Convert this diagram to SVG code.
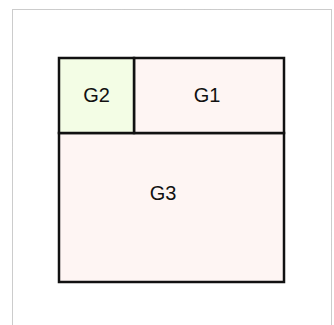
<svg xmlns="http://www.w3.org/2000/svg" width="334" height="325" viewBox="0 0 334 325">
<style>
.cell{stroke:#111;stroke-width:2.5}
.lbl{font-family:"Liberation Sans",Arial,sans-serif;font-size:20px;fill:#111;text-anchor:middle}
</style>
<rect x="0" y="0" width="334" height="325" fill="#fff"/>
<rect x="12.5" y="9.5" width="319" height="330" fill="none" stroke="#999" stroke-width="1" stroke-dasharray="1,1"/>
<g id="G3"><rect class="cell" x="59" y="133" width="225" height="149" fill="#fef5f3"/><text class="lbl" x="163" y="199.5">G3</text></g>
<g id="G1"><rect class="cell" x="134" y="58" width="150" height="75" fill="#fef5f3"/><text class="lbl" x="207" y="102">G1</text></g>
<g id="G2"><rect class="cell" x="59" y="58" width="75" height="75" fill="#f3fde5"/><text class="lbl" x="96.5" y="102">G2</text></g>
<g id="connectors"/>
</svg>
